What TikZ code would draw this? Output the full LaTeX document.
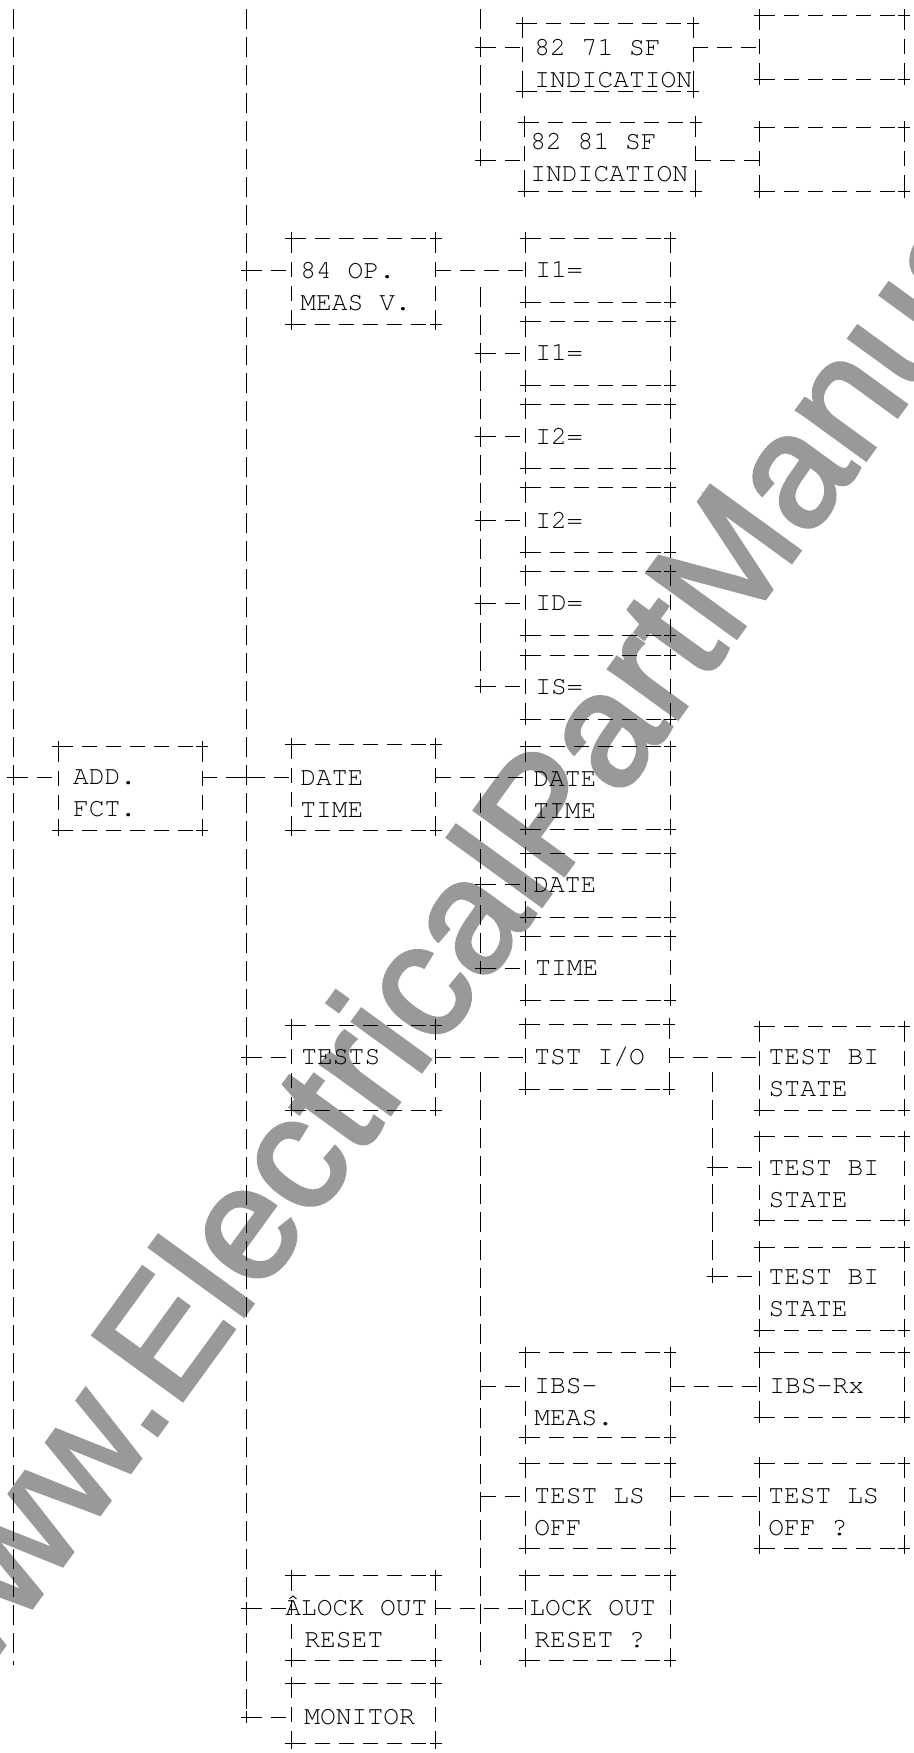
\documentclass[tikz,border=0pt]{standalone}
\usepackage{fontspec}
\newfontfamily\cour{TeX Gyre Cursor}
\newfontfamily\wmfont[FakeBold=2.5]{Liberation Sans}
\newcommand\tl[1]{\begin{tabular}[t]{@{}l@{}}#1\end{tabular}}
\newcommand\mybox[5]{\node[bx, minimum width={(#4-#2)*0.5pt}, minimum height={(#5-#3)*0.5pt}] (#1) at (#2,#3) {};}
\newcommand\mytext[4]{\node[txt] (#1) at (#2,{#3+7.5}) {\tl{#4}};}
\newcommand\crs[1]{\draw[tick] (#1) +(-6,0) -- +(6,0) (#1) +(0,-6) -- +(0,6);}
\begin{document}
\begin{tikzpicture}[x=0.5pt,y=-0.5pt,
  hd/.style={line width=0.5pt, dash pattern=on 7.5pt off 4.5pt},
  vd/.style={line width=0.5pt, dash pattern=on 10pt off 4pt},
  tick/.style={line width=0.5pt, solid},
  bx/.style={rectangle, draw=none, inner sep=0pt, outer sep=0pt, anchor=north west},
  txt/.style={anchor=base west, inner sep=0pt, font=\cour\fontsize{13.15pt}{16pt}\selectfont},
  wm/.style={anchor=base west, inner sep=0pt, rotate=54, text=black!40,
    font=\wmfont\fontsize{80pt}{80pt}\selectfont}]
\useasboundingbox (0,0) rectangle (914,1753);
\fill[white] (0,0) rectangle (914,1753);
% watermark
\begin{scope}
\clip (0,0) rectangle (914,1753);
\node[wm] (wm) at (-50,1720) {www.ElectricalPartManuals.com};
\end{scope}
% boxes
\mybox{b8271}{522.3}{23.3}{693.3}{91.7}
\mybox{b8281}{524}{122.3}{695.7}{191}
\mybox{r1}{759.7}{15}{904}{79.3}
\mybox{r2}{759.7}{127.3}{904}{191.7}
\mybox{op84}{291}{238}{435.7}{324}
\mybox{i1a}{525.7}{238.3}{670}{302}
\mybox{i1b}{525.7}{321.7}{670}{385.7}
\mybox{i2a}{525.7}{404.3}{670}{468.3}
\mybox{i2b}{525.7}{487.7}{670}{552.3}
\mybox{bID}{525.7}{571}{670}{635.7}
\mybox{bIS}{525.7}{655}{670}{719}
\mybox{addfct}{58.3}{746.7}{202.3}{830}
\mybox{dt3}{291}{744.3}{435.5}{830}
\mybox{dt4}{525.7}{746.7}{670}{829}
\mybox{date4}{525.7}{853.3}{670}{917.3}
\mybox{time4}{525.7}{936}{670}{1000}
\mybox{tests}{291}{1025}{435.7}{1110}
\mybox{tstio}{525}{1024}{669.3}{1089.3}
\mybox{tbi1}{759.5}{1026.7}{904}{1110}
\mybox{tbi2}{759.5}{1136.7}{904}{1220}
\mybox{tbi3}{759.5}{1247.3}{904}{1330.7}
\mybox{ibs}{525}{1352.7}{670}{1437.7}
\mybox{ibsrx}{759.7}{1352.7}{904}{1417.3}
\mybox{tls}{525}{1463.3}{670}{1548.3}
\mybox{tlsq}{759.7}{1463.3}{904}{1548.3}
\mybox{lock3}{291}{1575.7}{435.7}{1660.7}
\mybox{lock4}{525}{1575.7}{670}{1660.7}
\mybox{monitor}{291}{1683.3}{435.7}{1743.3}
\foreach \n in {b8271,b8281,r1,r2,op84,i1a,i1b,i2a,i2b,bID,bIS,addfct,dt3,dt4,date4,time4,tests,tstio,tbi1,tbi2,tbi3,ibs,ibsrx,tls,tlsq,lock3,lock4,monitor}{
  \draw[hd] (\n.north west) -- (\n.north east) (\n.south west) -- (\n.south east);
  \draw[hd] (\n.north west) -- (\n.south west) (\n.north east) -- (\n.south east);
  \foreach \c in {north west,north east,south west,south east}{\crs{\n.\c}}
}
% texts
\mytext{t8271}{534}{47.7}{82 71 SF\\INDICATION}
\mytext{t8281}{530}{141.7}{82 81 SF\\INDICATION}
\mytext{top84}{300}{270.7}{84 OP.\\MEAS V.}
\mytext{ti1a}{535}{270}{I1=}
\mytext{ti1b}{535}{353.3}{I1=}
\mytext{ti2a}{535}{436.7}{I2=}
\mytext{ti2b}{535}{520.7}{I2=}
\mytext{tid}{535}{603.3}{ID=}
\mytext{tis}{535}{686.7}{IS=}
\mytext{tadd}{72.7}{777.3}{ADD.\\FCT.}
\mytext{tdt3}{300}{778}{DATE\\TIME}
\mytext{tdt4}{533}{779}{DATE\\TIME}
\mytext{tdate4}{533}{885}{DATE}
\mytext{ttime4}{535}{968.3}{TIME}
\mytext{ttests}{301}{1057.3}{TESTS}
\mytext{ttstio}{534}{1057.3}{TST I/O}
\mytext{ttbi1}{768.3}{1057.3}{TEST BI\\STATE}
\mytext{ttbi2}{768.3}{1167.7}{TEST BI\\STATE}
\mytext{ttbi3}{768.3}{1276.7}{TEST BI\\STATE}
\mytext{tibs}{534}{1386}{IBS-\\MEAS.}
\mytext{tibsrx}{769}{1386}{IBS-Rx}
\mytext{ttls}{534}{1496}{TEST LS\\OFF}
\mytext{ttlsq}{768}{1496}{TEST LS\\OFF ?}
\mytext{tlock3}{285}{1608.3}{ÂLOCK OUT\\\hspace*{9.5pt}RESET}
\mytext{tlock4}{529}{1608.3}{LOCK OUT\\\hspace*{2.5pt}RESET ?}
\mytext{tmon}{304}{1717.3}{MONITOR}
% vertical lines and tee points
\coordinate (A0) at (13.3,9); \coordinate (A1) at (13.3,777.3); \coordinate (Aend) at (13.3,1665);
\coordinate (B0) at (246.7,9); \coordinate (Bop) at (246.7,270); \coordinate (Bdt) at (246.7,777.3);
\coordinate (Bts) at (246.7,1057.3); \coordinate (Blk) at (246.7,1608.3); \coordinate (Bmo) at (246.7,1717.3);
\coordinate (C0) at (480.7,9); \coordinate (C1) at (480.7,47.3); \coordinate (C2) at (480.7,160);
\coordinate (D0) at (480.7,287); \coordinate (D1) at (480.7,353.3); \coordinate (D2) at (480.7,436.7);
\coordinate (D3) at (480.7,520.7); \coordinate (D4) at (480.7,603.3); \coordinate (D5) at (480.7,686.7);
\coordinate (G0) at (480.7,793.3); \coordinate (G1) at (480.7,884.3); \coordinate (G2) at (480.7,968.3);
\coordinate (E0) at (480.7,1071.7); \coordinate (E1) at (480.7,1386); \coordinate (E2) at (480.7,1496); \coordinate (Eend) at (480.7,1665);
\coordinate (F0) at (712.7,1071.7); \coordinate (F1) at (712.7,1167.7); \coordinate (F2) at (712.7,1276.7);
\draw[vd] (A0) -- (Aend);
\draw[vd] (B0) -- (Bmo);
\draw[vd] (C0) -- (C2);
\draw[vd] (D0) -- (D5);
\draw[vd] (G0) -- (G2);
\draw[vd] (E0) -- (Eend);
\draw[vd] (F0) -- (F2);
% connectors
\draw[hd] (C1) -- (b8271.west |- C1);
\draw[hd] (b8271.east |- C1) -- (r1.west |- C1);
\draw[hd] (C2) -- (b8281.west |- C2);
\draw[hd] (b8281.east |- C2) -- (r2.west |- C2);
\draw[hd] (Bop) -- (op84.west |- Bop);
\draw[hd] (op84.east |- Bop) -- (i1a.west |- Bop);
\draw[hd] (D1) -- (i1b.west |- D1);
\draw[hd] (D2) -- (i2a.west |- D2);
\draw[hd] (D3) -- (i2b.west |- D3);
\draw[hd] (D4) -- (bID.west |- D4);
\draw[hd] (D5) -- (bIS.west |- D5);
\draw[hd] (A1) -- (addfct.west |- A1);
\draw[hd] (addfct.east |- A1) -- (dt3.west |- A1);
\draw[hd] (dt3.east |- A1) -- (dt4.west |- A1);
\draw[hd] (G1) -- (date4.west |- G1);
\draw[hd] (G2) -- (time4.west |- G2);
\draw[hd] (Bts) -- (tests.west |- Bts);
\draw[hd] (tests.east |- Bts) -- (tstio.west |- Bts);
\draw[hd] (tstio.east |- Bts) -- (tbi1.west |- Bts);
\draw[hd] (F1) -- (tbi2.west |- F1);
\draw[hd] (F2) -- (tbi3.west |- F2);
\draw[hd] (E1) -- (ibs.west |- E1);
\draw[hd] (ibs.east |- E1) -- (ibsrx.west |- E1);
\draw[hd] (E2) -- (tls.west |- E2);
\draw[hd] (tls.east |- E2) -- (tlsq.west |- E2);
\draw[hd] (Blk) -- (lock3.west |- Blk);
\draw[hd] (lock3.east |- Blk) -- (lock4.west |- Blk);
\draw[hd] (Bmo) -- (monitor.west |- Bmo);
\foreach \p in {A1,Bop,Bdt,Bts,Blk,Bmo,C1,C2,D1,D2,D3,D4,D5,G1,G2,F1,F2}{\crs{\p}}
\end{tikzpicture}
\end{document}
